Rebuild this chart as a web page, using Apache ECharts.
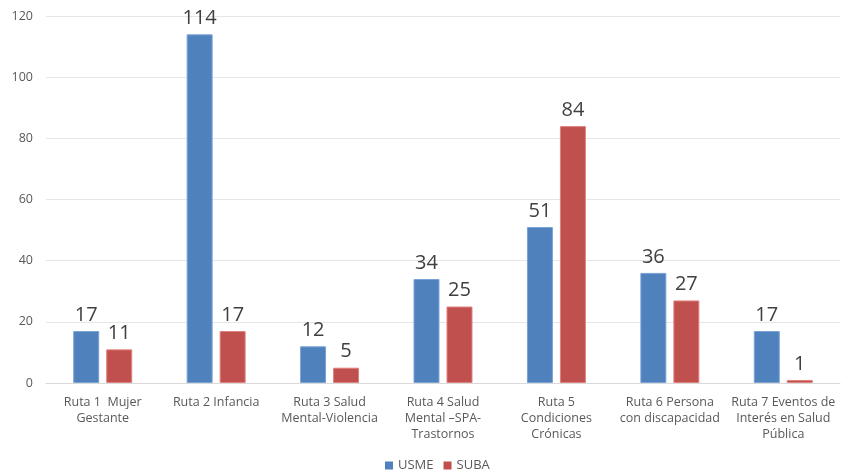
<!DOCTYPE html>
<html lang="es" style="height: 100%">
<head>
  <meta charset="utf-8">
</head>
<body style="height: 100%; margin: 0; background: #fff">
  <div id="container" style="width: 841px; height: 470px"></div>

  <script type="text/javascript" src="https://fastly.jsdelivr.net/npm/echarts@6.0.0/dist/echarts.min.js"></script>
  <script type="text/javascript">
    var categories = [
      'Ruta 1  Mujer\nGestante',
      'Ruta 2 Infancia',
      'Ruta 3 Salud\nMental-Violencia',
      'Ruta 4 Salud\nMental \u2013SPA-\nTrastornos',
      'Ruta 5\nCondiciones\nCr\u00f3nicas',
      'Ruta 6 Persona\ncon discapacidad',
      'Ruta 7 Eventos de\nInter\u00e9s en Salud\nP\u00fablica'
    ];
    var usme = [17, 114, 12, 34, 51, 36, 17];
    var suba = [11, 17, 5, 25, 84, 27, 1];

    var dom = document.getElementById('container');
    var myChart = echarts.init(dom, null, { renderer: 'canvas' });
    var font = 'Open Sans';

    var labelStyle = {
      show: true,
      position: 'top',
      distance: 6,
      fontSize: 20,
      color: '#404040',
      fontFamily: font
    };

    var option = {
      animation: false,
      grid: { left: 46, right: 1, top: 16, bottom: 87 },
      legend: {
        top: 454,
        left: 380,
        itemWidth: 8,
        itemHeight: 8,
        itemGap: 10,
        icon: 'rect',
        itemStyle: { borderWidth: 0 },
        textStyle: { fontSize: 13, color: '#595959', fontFamily: font },
        data: ['USME', 'SUBA']
      },
      xAxis: {
        type: 'category',
        data: categories,
        axisTick: { show: false },
        axisLine: { lineStyle: { color: '#d9d9d9' } },
        axisLabel: {
          interval: 0,
          margin: 11,
          fontSize: 12.5,
          lineHeight: 16,
          color: '#595959',
          fontFamily: font
        }
      },
      yAxis: {
        type: 'value',
        min: 0,
        max: 120,
        interval: 20,
        axisLabel: { fontSize: 12.5, color: '#595959', margin: 13, fontFamily: font },
        splitLine: { lineStyle: { color: '#e6e6e6' } }
      },
      series: [
        {
          name: 'USME',
          type: 'bar',
          data: usme,
          barGap: '27%',
          barCategoryGap: '48%',
          itemStyle: { color: '#4F81BD', borderColor: '#7aa3d6', borderWidth: 1 },
          label: labelStyle
        },
        {
          name: 'SUBA',
          type: 'bar',
          data: suba,
          itemStyle: { color: '#C0504D', borderColor: '#e08280', borderWidth: 1 },
          label: labelStyle
        }
      ]
    };

    myChart.setOption(option);
    window.addEventListener('resize', myChart.resize);
  </script>
</body>
</html>
